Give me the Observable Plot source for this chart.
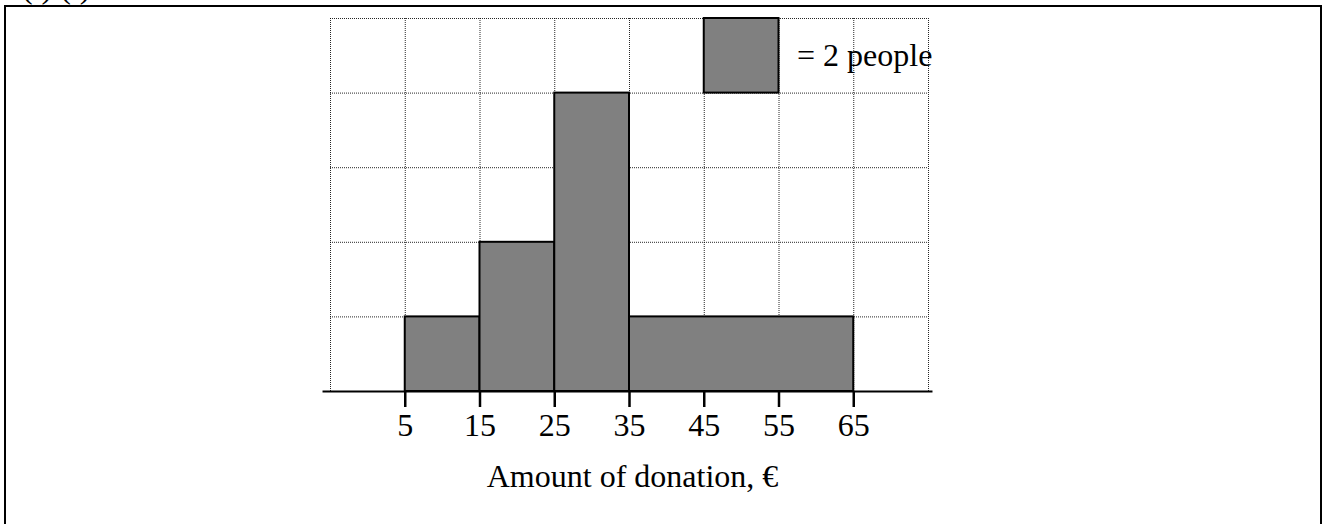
<!DOCTYPE html>
<html>
<head>
<meta charset="utf-8">
<script src="https://cdn.jsdelivr.net/npm/d3@7"></script>
<script src="https://cdn.jsdelivr.net/npm/@observablehq/plot@0.6"></script>
<style>
  html, body { margin: 0; padding: 0; background: #fff; overflow: hidden; }
  #wrap { position: relative; width: 1322px; height: 524px; overflow: hidden; }
  #frame { position: absolute; left: 4px; top: 5px; width: 1318px; height: 600px; border: 2px solid #000; box-sizing: border-box; }
  #cut { position: absolute; left: 22px; top: -31px; font: 32px "Liberation Serif", "Times New Roman", serif; color: #000; white-space: pre; }
  #chart { position: absolute; left: 0; top: 0; }
</style>
</head>
<body>
<div id="wrap">
  <div id="frame"></div>
  <div id="cut">(i) (i)</div>
  <div id="chart"></div>
</div>
<script>
// Histogram data (heights in grid squares; 1 square = 2 people)
const binStart = [5, 15, 25, 35];
const binEnd   = [15, 25, 35, 65];
const binHeight = [1, 2, 4, 1];

// Key square
const keyX1 = [45], keyX2 = [55], keyY1 = [4], keyY2 = [5];
const keyLabel = ["= 2 people"];

// Ticks / grid
const xTickLabels = [5, 15, 25, 35, 45, 55, 65];
const gridXTicks = [-5, 5, 15, 25, 35, 45, 55, 65, 75];
const gridYTicks = [1, 2, 3, 4, 5];
const xTitle = "Amount of donation, €";
const axisExtent = [-6, 75.6];

const bars = binStart.map((s, i) => ({x1: s, x2: binEnd[i], y: binHeight[i]}));
const key = keyX1.map((x, i) => ({x1: x, x2: keyX2[i], y1: keyY1[i], y2: keyY2[i], label: keyLabel[i]}));

const font = '"Liberation Serif", "Times New Roman", serif';
const W = 1322, H = 524, mL = 330, mR = 394, mT = 18, mB = 133;
const tickLenPx = 16;
const tickDepth = -tickLenPx * 5 / (H - mT - mB); // tick length expressed in y units

const chart = Plot.plot({
  width: W,
  height: H,
  marginLeft: mL,
  marginRight: mR,
  marginTop: mT,
  marginBottom: mB,
  style: {fontFamily: font, fontSize: "32px", background: "transparent", color: "#000", overflow: "visible"},
  x: {domain: [-5, 75], ticks: xTickLabels},
  y: {domain: [0, 5], axis: null},
  marks: [
    Plot.gridX(gridXTicks, {stroke: "#000", strokeOpacity: 0.85, strokeDasharray: "1,1", strokeWidth: 1}),
    Plot.gridY(gridYTicks, {stroke: "#000", strokeOpacity: 0.85, strokeDasharray: "1,1", strokeWidth: 1}),
    Plot.rectY(bars, {x1: "x1", x2: "x2", y: "y", fill: "#808080", stroke: "#000", strokeWidth: 2}),
    Plot.rect(key, {x1: "x1", x2: "x2", y1: "y1", y2: "y2", fill: "#808080", stroke: "#000", strokeWidth: 2}),
    Plot.text(key, {x: "x2", y: d => (d.y1 + d.y2) / 2, text: "label", textAnchor: "start", dx: 18, fontSize: 32, fill: "#000"}),
    Plot.ruleY([0], {x1: axisExtent[0], x2: axisExtent[1], stroke: "#000", strokeWidth: 2}),
    Plot.ruleX(xTickLabels, {y1: 0, y2: tickDepth, stroke: "#000", strokeWidth: 2.5}),
    Plot.axisX(xTickLabels, {tickSize: 0, tickPadding: tickLenPx + 6, fontSize: 32, fill: "#000", label: null}),
    Plot.text([xTitle], {frameAnchor: "bottom", x: () => 35, text: d => d, lineAnchor: "bottom", dy: 95, dx: 3, fontSize: 32, fill: "#000"})
  ]
});
document.getElementById("chart").appendChild(chart);
</script>
</body>
</html>
